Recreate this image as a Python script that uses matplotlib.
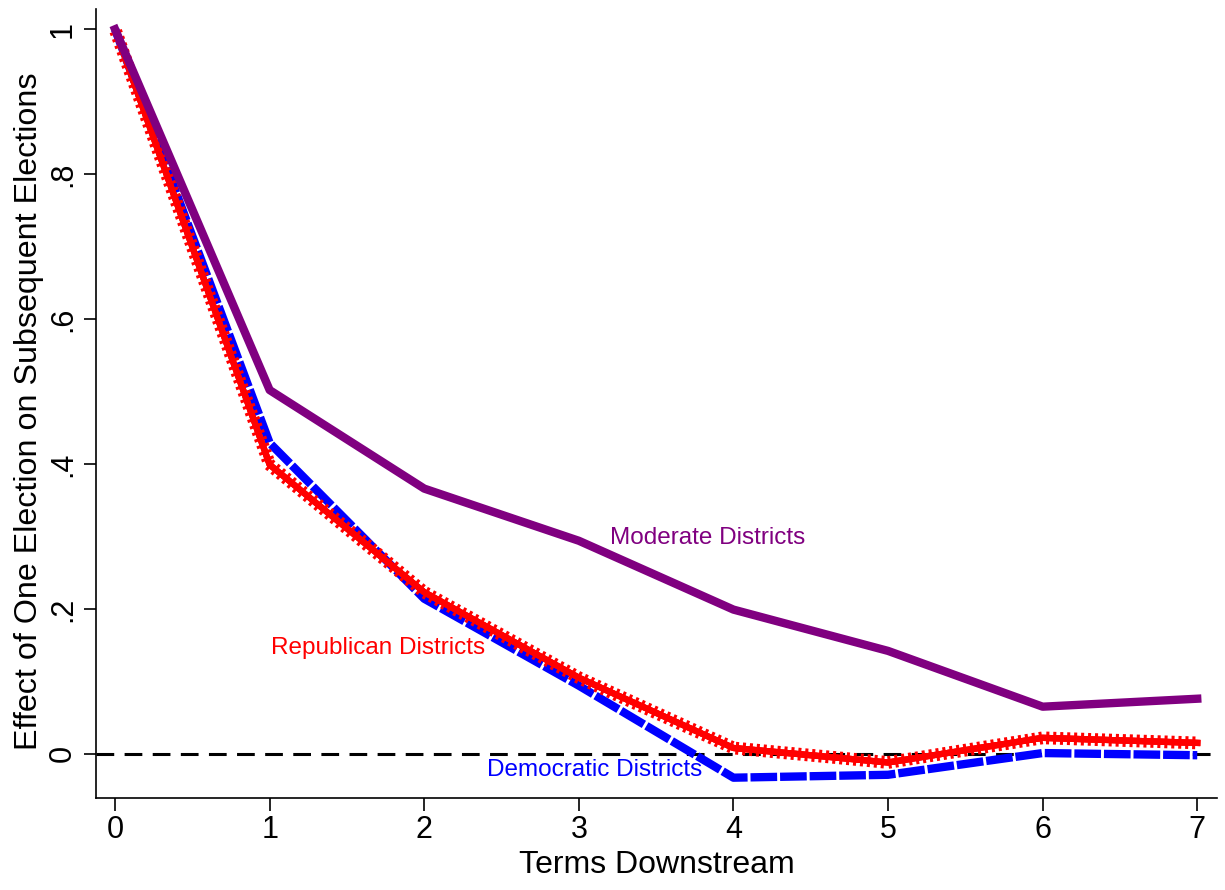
import matplotlib.pyplot as plt
import matplotlib.patheffects as pe

plt.rcParams['font.family'] = ['Liberation Sans', 'DejaVu Sans']

# terms downstream
terms = [0, 1, 2, 3, 4, 5, 6, 7]

# effect estimates
moderate = [1.0, 0.502, 0.366, 0.294, 0.199, 0.142, 0.065, 0.076]
democratic = [1.0, 0.429, 0.214, 0.094, -0.033, -0.029, 0.001, -0.002]
republican = [1.0, 0.399, 0.223, 0.105, 0.008, -0.012, 0.022, 0.015]

yticks = [0, 0.2, 0.4, 0.6, 0.8, 1.0]
ytick_labels = ['0', '.2', '.4', '.6', '.8', '1']

fig = plt.figure(figsize=(12.25, 8.9), dpi=100)
ax = fig.add_axes([0.0784, 0.1034, 0.9151, 0.8865])

# reference line at zero
ax.axhline(0, color='black', lw=2.2, dashes=(5.8, 3.4), zorder=1)

ax.plot(terms, democratic, color='#0000ff', lw=6, dashes=(3.2, 0.35),
        dash_capstyle='butt', solid_joinstyle='miter', zorder=2)

ax.plot(terms, republican, color='#ff0000', lw=4.5, zorder=3,
        path_effects=[pe.withTickedStroke(angle=90, spacing=5, length=0.7,
                                          linewidth=2.2, foreground='#ff0000'),
                      pe.withTickedStroke(angle=-90, spacing=5, length=0.7,
                                          linewidth=2.2, foreground='#ff0000'),
                      pe.Normal()])

ax.plot(terms, moderate, color='#800080', lw=6, zorder=4)

ax.text(3.835, 0.298, 'Moderate Districts', color='#800080', fontsize=17.5,
        ha='center', va='center')
ax.text(1.70, 0.146, 'Republican Districts', color='#ff0000', fontsize=17.5,
        ha='center', va='center')
ax.text(3.10, -0.023, 'Democratic Districts', color='#0000ff', fontsize=17.5,
        ha='center', va='center')

ax.set_xlim(-0.123, 7.128)
ax.set_ylim(-0.061, 1.028)
ax.set_xticks(terms)
ax.set_yticks(yticks)
ax.set_yticklabels(ytick_labels, rotation=90, va='center')
ax.tick_params(axis='both', labelsize=22, length=9, width=1.2, direction='out')
ax.tick_params(axis='y', pad=4)

ax.set_xlabel('Terms Downstream', fontsize=23, labelpad=3)
ax.set_ylabel('Effect of One Election on Subsequent Elections', fontsize=23.2, labelpad=3)
ax.yaxis.label.set_y(0.4905)

for s in ['top', 'right']:
    ax.spines[s].set_visible(False)
for s in ['left', 'bottom']:
    ax.spines[s].set_linewidth(1.2)

fig.savefig('out.png', dpi=100)
